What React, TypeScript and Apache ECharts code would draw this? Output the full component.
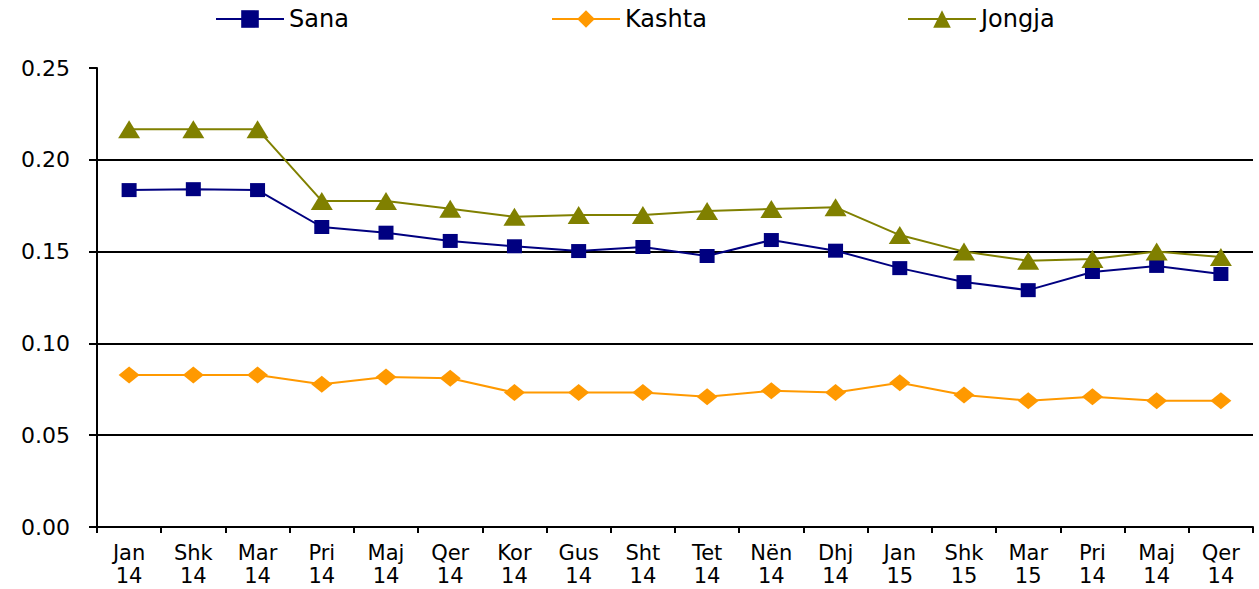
import React, { useEffect, useRef } from "react";
import * as echarts from "echarts";

const months = ["Jan", "Shk", "Mar", "Pri", "Maj", "Qer", "Kor", "Gus", "Sht", "Tet", "Nën", "Dhj", "Jan", "Shk", "Mar", "Pri", "Maj", "Qer"];
const years = ["14", "14", "14", "14", "14", "14", "14", "14", "14", "14", "14", "14", "15", "15", "15", "14", "14", "14"];
const categories = months.map((m, i) => m + "\n" + years[i]);

const seriesNames = ["Sana", "Kashta", "Jongja"];
const sana = [0.1835, 0.184, 0.1835, 0.1634, 0.1603, 0.1558, 0.1529, 0.1503, 0.1525, 0.1476, 0.1563, 0.1505, 0.141, 0.1334, 0.129, 0.1389, 0.1422, 0.1378];
const kashta = [0.0828, 0.0828, 0.0828, 0.0777, 0.0817, 0.081, 0.0732, 0.0732, 0.0732, 0.071, 0.0742, 0.0732, 0.0786, 0.0719, 0.0688, 0.071, 0.0688, 0.0688];
const jongja = [0.2166, 0.2166, 0.2166, 0.1776, 0.1776, 0.1734, 0.169, 0.170, 0.170, 0.1721, 0.1732, 0.1741, 0.159, 0.150, 0.145, 0.146, 0.150, 0.147];

const yTicks = { min: 0, max: 0.25, interval: 0.05 };

export default function App() {
  const ref = useRef<HTMLDivElement>(null);
  useEffect(() => {
    if (!ref.current) return;
    const chart = echarts.init(ref.current, null, { renderer: "svg" });
    const font = "'DejaVu Sans', 'Liberation Sans', Arial, sans-serif";
    const legendLefts = [210, 546, 902];
    chart.setOption({
      animation: false,
      backgroundColor: "#fff",
      textStyle: { fontFamily: font },
      legend: seriesNames.map((n, i) => ({
        top: 2,
        left: legendLefts[i],
        itemWidth: 68,
        itemHeight: 22,
        textStyle: { fontSize: 24, color: "#000", fontFamily: font },
        data: [n],
      })),
      grid: { left: 97, right: 6, top: 68, bottom: 62, containLabel: false },
      xAxis: {
        type: "category",
        data: categories,
        boundaryGap: true,
        axisLine: { show: true, lineStyle: { color: "#000", width: 2 } },
        axisTick: { show: true, length: 6, alignWithLabel: false, lineStyle: { color: "#000", width: 2 } },
        axisLabel: { color: "#000", fontSize: 21, lineHeight: 23, margin: 14, interval: 0, fontFamily: font },
        splitLine: { show: false },
      },
      yAxis: {
        type: "value",
        min: yTicks.min,
        max: yTicks.max,
        interval: yTicks.interval,
        axisLine: { show: true, lineStyle: { color: "#000", width: 2 } },
        axisTick: { show: true, length: 8, lineStyle: { color: "#000", width: 2 } },
        axisLabel: {
          color: "#000",
          fontSize: 22,
          margin: 27,
          fontFamily: font,
          formatter: (v: number) => v.toFixed(2),
        },
        splitLine: {
          show: true,
          lineStyle: { color: ["#000", "#000", "#000", "#000", "#000", "rgba(0,0,0,0)"], width: 2 },
        },
      },
      series: [
        {
          name: "Sana",
          type: "line",
          data: sana,
          symbol: "rect",
          symbolSize: [15, 14],
          color: "#000080",
          lineStyle: { color: "#000080", width: 2 },
          itemStyle: { color: "#000080" },
        },
        {
          name: "Kashta",
          type: "line",
          data: kashta,
          symbol: "diamond",
          symbolSize: [21, 17],
          color: "#FF9900",
          lineStyle: { color: "#FF9900", width: 2 },
          itemStyle: { color: "#FF9900" },
        },
        {
          name: "Jongja",
          type: "line",
          data: jongja,
          symbol: "triangle",
          symbolSize: [22, 18],
          color: "#808000",
          lineStyle: { color: "#808000", width: 2 },
          itemStyle: { color: "#808000" },
        },
      ],
    });
    return () => chart.dispose();
  }, []);
  return <div ref={ref} style={{ width: 1259, height: 589, position: "absolute", left: 0, top: 0 }} />;
}
